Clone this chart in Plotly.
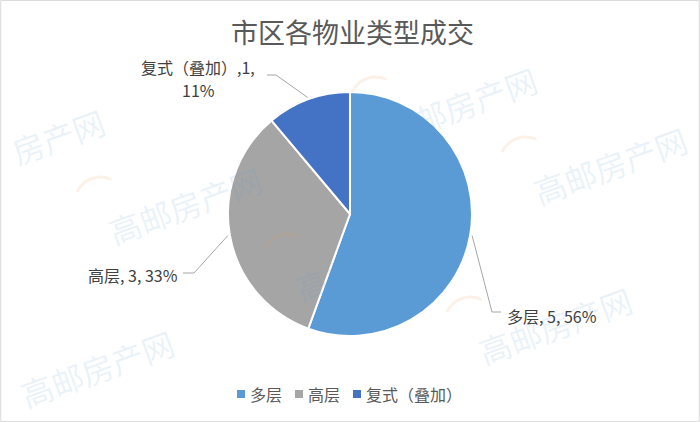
import math
import plotly.graph_objects as go

# ---- data ----
categories = ["多层", "高层", "复式（叠加）"]
values = [5, 3, 1]
colors = ["#5B9BD5", "#A5A5A5", "#4472C4"]
title_text = "市区各物业类型成交"
watermark_text = "高邮房产网"

W, H = 700, 422
FONT = "Noto Sans CJK SC, Microsoft YaHei, sans-serif"

def px(x):
    return x / W

def py(y):
    return 1 - y / H

# pie geometry (pixels)
cx, cy, r = 350, 214, 122

fig = go.Figure()
fig.add_trace(go.Pie(
    labels=categories,
    values=values,
    sort=False,
    direction="clockwise",
    rotation=0,
    marker=dict(colors=colors, line=dict(color="white", width=2)),
    textinfo="none",
    hole=0,
    domain=dict(x=[px(cx - r), px(cx + r)], y=[py(cy + r), py(cy - r)]),
    showlegend=False,
))

total = sum(values)
fracs = [v / total for v in values]
pcts = [round(f * 100) for f in fracs]

# each label: list of (text, x, y) lines, xanchor, leader-line elbow points
label_specs = [
    dict(lines=[(f"{categories[0]}, {values[0]}, {pcts[0]}%", 505, 316)], xanchor="left",
         path=[(492, 312), (501, 312)]),
    dict(lines=[(f"{categories[1]}, {values[1]}, {pcts[1]}%", 180, 275)], xanchor="right",
         path=[(194, 273), (183, 273)]),
    dict(lines=[(f"{categories[2]},{values[2]},", 198, 67), (f"{pcts[2]}%", 198, 90)],
         xanchor="center", path=[(276, 75), (267, 75)]),
]

annotations = []
shapes = []

# watermarks (faint)
wm_positions = [(460, 105), (185, 205), (610, 165), (372, 262), (555, 325), (97, 368)]
for (wx, wy) in wm_positions:
    annotations.append(dict(
        text=watermark_text, x=px(wx), y=py(wy), xref="paper", yref="paper",
        xanchor="center", yanchor="middle", showarrow=False, textangle=-20,
        font=dict(family=FONT, size=32, color="rgba(91,155,213,0.13)"),
    ))
    lx = wx - 88
    if lx > 15:
        annotations.append(dict(
            text="⌒", x=px(lx), y=py(wy - 12), xref="paper", yref="paper",
            xanchor="center", yanchor="middle", showarrow=False, textangle=-20,
            font=dict(family=FONT, size=40, color="rgba(240,150,70,0.14)"),
        ))
annotations.append(dict(
    text="房产网", x=px(58), y=py(136), xref="paper", yref="paper",
    xanchor="center", yanchor="middle", showarrow=False, textangle=-20,
    font=dict(family=FONT, size=32, color="rgba(91,155,213,0.13)"),
))

# data labels with leader lines
cum = 0.0
for i, spec in enumerate(label_specs):
    mid = 2 * math.pi * (cum + fracs[i] / 2)
    cum += fracs[i]
    ex = cx + (r + 2) * math.sin(mid)
    ey = cy - (r + 2) * math.cos(mid)
    pts = [(ex, ey)] + spec["path"]
    path = "M " + " L ".join(f"{px(a):.5f},{py(b):.5f}" for a, b in pts)
    shapes.append(dict(type="path", xref="paper", yref="paper", path=path,
                       line=dict(color="#A6A6A6", width=1)))
    for (t, tx, ty) in spec["lines"]:
        annotations.append(dict(
            text=t, x=px(tx), y=py(ty), xref="paper", yref="paper",
            xanchor=spec["xanchor"], yanchor="middle", showarrow=False, align="center",
            font=dict(family=FONT, size=16, color="#404040"),
        ))

# title
annotations.append(dict(
    text=title_text, x=px(352), y=py(31), xref="paper", yref="paper",
    xanchor="center", yanchor="middle", showarrow=False,
    font=dict(family=FONT, size=27, color="#595959"),
))

# compact legend (square + label)
legend_x = [237, 295, 353]
legend_y = 394
for i, name in enumerate(categories):
    x0 = legend_x[i]
    shapes.append(dict(type="rect", xref="paper", yref="paper",
                       x0=px(x0), x1=px(x0 + 8), y0=py(legend_y + 4), y1=py(legend_y - 4),
                       fillcolor=colors[i], line=dict(width=0)))
    annotations.append(dict(
        text=name, x=px(x0 + 11), y=py(legend_y), xref="paper", yref="paper",
        xanchor="left", yanchor="middle", showarrow=False,
        font=dict(family=FONT, size=16, color="#595959"),
    ))

# border
shapes.append(dict(type="rect", xref="paper", yref="paper", x0=0.001, y0=0.001, x1=0.999, y1=0.999,
                   line=dict(color="#D9D9D9", width=1)))

fig.update_layout(
    width=W, height=H,
    margin=dict(l=0, r=0, t=0, b=0),
    paper_bgcolor="white",
    plot_bgcolor="white",
    annotations=annotations,
    shapes=shapes,
    showlegend=False,
)

fig.write_html("out.html", config={"displayModeBar": False},
               post_script="document.body.style.margin='0';")
